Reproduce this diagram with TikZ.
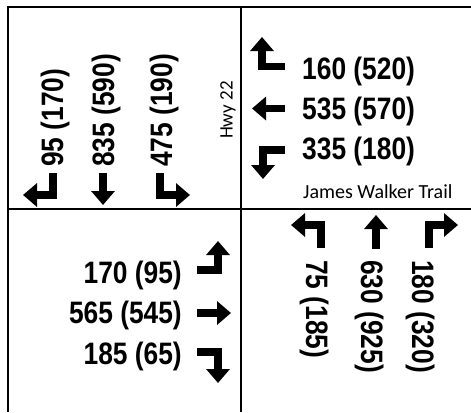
\documentclass[tikz,border=0pt]{standalone}
\usepackage{fontspec}
\usetikzlibrary{arrows.meta}
\newfontfamily\numfont[FakeStretch=0.85]{Liberation Sans}
\newfontfamily\labfont{Carlito}
\tikzset{
  num/.style={inner sep=0pt, font=\numfont\bfseries\fontsize{31bp}{31bp}\selectfont},
  lab/.style={inner sep=0pt, font=\labfont\fontsize{20bp}{20bp}\selectfont},
  hwy/.style={inner sep=0pt, font=\labfont\fontsize{19bp}{19bp}\selectfont},
  frame/.style={line width=2.5bp, black},
  mv/.style={line width=7.5bp, -{Triangle[width=23bp,length=14bp]}}
}
\begin{document}
\begin{tikzpicture}[x=1bp,y=-1bp]
\useasboundingbox (0,0) rectangle (471,412);
% frame
\draw[frame] (8,412) -- (8,7) -- (471,7);
\draw[frame] (241,7) -- (241,412);
\draw[frame] (8,209) -- (471,209);
% top-left (southbound)
\node[num, rotate=90, anchor=base west] (sbl) at (63,167) {95 (170)};
\node[num, rotate=90, anchor=base west] (sbt) at (114,167) {835 (590)};
\node[num, rotate=90, anchor=base west] (sbr) at (172,167) {475 (190)};
\draw[mv] (53,173) -- (53,195) -- (23,195);
\draw[mv] (103,173) -- (103,205);
\draw[mv] (160,173) -- (160,195) -- (190,195);
\node[hwy, rotate=90] (hwy) at (228,110) {Hwy 22};
% top-right (westbound)
\node[num, anchor=base west] (wbl) at (302,79) {160 (520)};
\node[num, anchor=base west] (wbt) at (302,119) {535 (570)};
\node[num, anchor=base west] (wbr) at (302,159) {335 (180)};
\draw[mv] (285,66.5) -- (262,66.5) -- (262,37);
\draw[mv] (285,108.5) -- (252,108.5);
\draw[mv] (285,150) -- (263,150) -- (263,179);
\node[lab, anchor=base west] (jwt) at (303,198) {James Walker Trail};
% bottom-left (eastbound)
\node[num, anchor=base east] (ebl) at (182,283) {170 (95)};
\node[num, anchor=base east] (ebt) at (182,323) {565 (545)};
\node[num, anchor=base east] (ebr) at (182,364) {185 (65)};
\draw[mv] (197,270) -- (218,270) -- (218,241);
\draw[mv] (197,313) -- (231,313);
\draw[mv] (197,352) -- (218,352) -- (218,383);
% bottom-right (northbound)
\node[num, rotate=-90, anchor=base west] (nbl) at (306,260) {75 (185)};
\node[num, rotate=-90, anchor=base west] (nbt) at (361,260) {630 (925)};
\node[num, rotate=-90, anchor=base west] (nbr) at (412,260) {180 (320)};
\draw[mv] (321,248) -- (321,225) -- (291,225);
\draw[mv] (376,249) -- (376,215);
\draw[mv] (429,248) -- (429,225) -- (458,225);
\end{tikzpicture}
\end{document}
